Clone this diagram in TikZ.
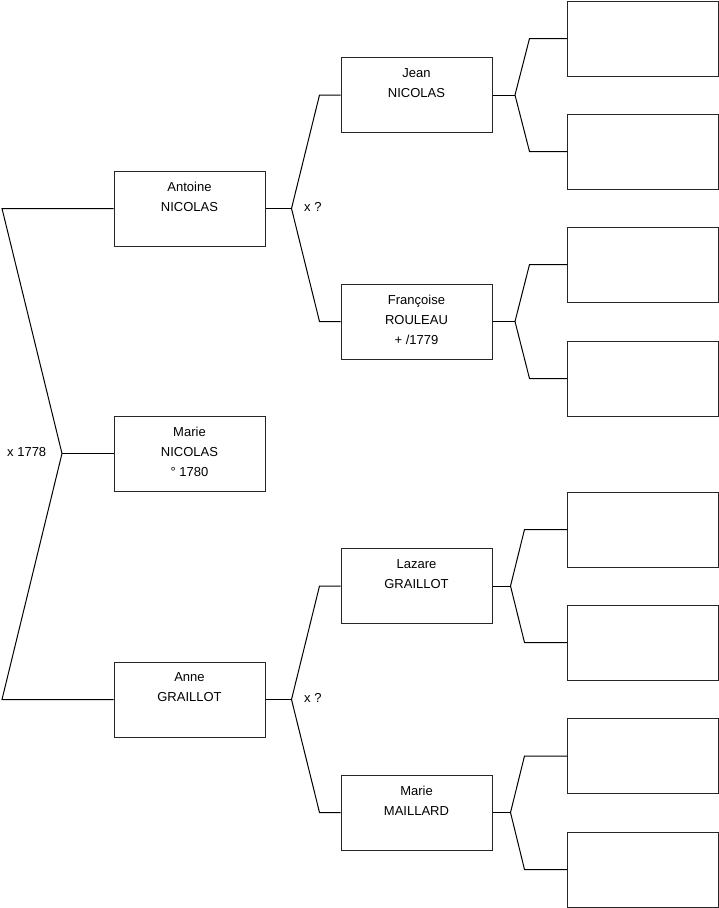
\documentclass[tikz,border=0pt]{standalone}
\usepackage{fontspec}
\setmainfont{Liberation Sans}
\begin{document}
\begin{tikzpicture}[x=1pt,y=-1pt,
  box/.style={draw=black!85, line width=1pt, minimum width=151pt, minimum height=75pt, inner sep=0pt},
  lbl/.style={anchor=north, yshift=-11pt, align=center, inner sep=0pt, font=\fontsize{13}{20}\selectfont},
  txt/.style={inner sep=0pt, font=\fontsize{13}{20}\selectfont},
  con/.style={draw=black, line width=1pt, line join=miter}]
\useasboundingbox (0,0) rectangle (719,908);
% generation 1
\node[box, label={[lbl]north:{Marie\\NICOLAS\\° 1780}}] (marie) at (189.5,453.5) {};
% generation 2
\node[box, label={[lbl]north:{Antoine\\NICOLAS}}] (antoine) at (189.5,208.5) {};
\node[box, label={[lbl]north:{Anne\\GRAILLOT}}] (anne) at (189.5,699.5) {};
% generation 3
\node[box, label={[lbl]north:{Jean\\NICOLAS}}] (jean) at (416.5,95) {};
\node[box, label={[lbl]north:{Françoise\\ROULEAU\\+ /1779}}] (francoise) at (416.5,321.5) {};
\node[box, label={[lbl]north:{Lazare\\GRAILLOT}}] (lazare) at (416.5,586) {};
\node[box, label={[lbl]north:{Marie\\MAILLARD}}] (maillard) at (416.5,812.5) {};
% generation 4 (empty)
\node[box] (b1) at (643,38.5) {};
\node[box] (b2) at (643,151.5) {};
\node[box] (b3) at (643,264.5) {};
\node[box] (b4) at (643,378.5) {};
\node[box] (b5) at (643,529.5) {};
\node[box] (b6) at (643,642.5) {};
\node[box] (b7) at (643,756) {};
\node[box] (b8) at (643,869.5) {};
% coordinates
\coordinate (r1) at (2,208.5);
\coordinate (rv) at (62,453.5);
\coordinate (r2) at (2,699.5);
\coordinate (av) at (291.5,208.5);
\coordinate (at) at (319.5,95);
\coordinate (ab) at (319.5,321.5);
\coordinate (nv) at (291.5,699.5);
\coordinate (nt) at (319.5,586);
\coordinate (nb) at (319.5,812.5);
\coordinate (jv) at (515,95);
\coordinate (jt) at (529.5,38.5);
\coordinate (jb) at (529.5,151.5);
\coordinate (fv) at (515,321.5);
\coordinate (ft) at (529.5,264.5);
\coordinate (fb) at (529.5,378.5);
\coordinate (lv) at (510.5,586);
\coordinate (lt) at (524.5,529.5);
\coordinate (lb) at (524.5,642.5);
\coordinate (mv) at (510.5,812.5);
\coordinate (mt) at (524.5,756);
\coordinate (mb) at (524.5,869.5);
% connectors
\draw[con] (antoine.west) -- (r1) -- (rv) -- (r2) -- (anne.west);
\draw[con] (rv) -- (marie.west);
\draw[con] (antoine.east) -- (av);
\draw[con] (jean.west) -- (at) -- (av) -- (ab) -- (francoise.west);
\draw[con] (anne.east) -- (nv);
\draw[con] (lazare.west) -- (nt) -- (nv) -- (nb) -- (maillard.west);
\draw[con] (jean.east) -- (jv);
\draw[con] (b1.west) -- (jt) -- (jv) -- (jb) -- (b2.west);
\draw[con] (francoise.east) -- (fv);
\draw[con] (b3.west) -- (ft) -- (fv) -- (fb) -- (b4.west);
\draw[con] (lazare.east) -- (lv);
\draw[con] (b5.west) -- (lt) -- (lv) -- (lb) -- (b6.west);
\draw[con] (maillard.east) -- (mv);
\draw[con] (b7.west) -- (mt) -- (mv) -- (mb) -- (b8.west);
% marriage labels
\node[txt, anchor=base west] (m1) at (7,456) {x 1778};
\node[txt, anchor=base west] (m2) at (304,211) {x ?};
\node[txt, anchor=base west] (m3) at (304,702) {x ?};
\end{tikzpicture}
\end{document}
